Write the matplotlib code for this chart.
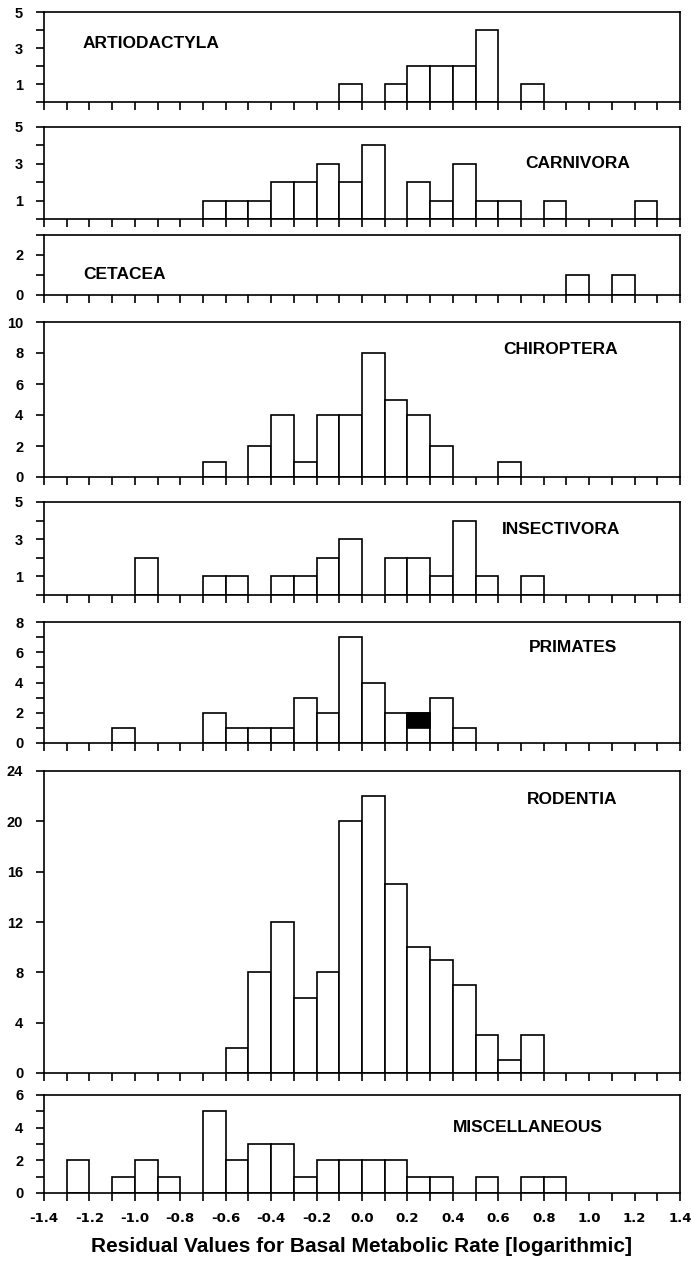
#stacked residual histograms by mammal order
import matplotlib.pyplot as plt
import numpy as np

plt.rcParams['font.family'] = ['Liberation Sans', 'DejaVu Sans']

# bins of width 0.1, left edges -1.4 .. 1.3
bin_left = np.linspace(-1.4, 1.3, 28)

artiodactyla = [0,0,0,0,0,0,0,0,0,0, 0,0,0,1,0,1,2,2,2,4, 0,1,0,0,0,0,0,0]
carnivora    = [0,0,0,0,0,0,0,1,1,1, 2,2,3,2,4,0,2,1,3,1, 1,0,1,0,0,0,1,0]
cetacea      = [0,0,0,0,0,0,0,0,0,0, 0,0,0,0,0,0,0,0,0,0, 0,0,0,1,0,1,0,0]
chiroptera   = [0,0,0,0,0,0,0,1,0,2, 4,1,4,4,8,5,4,2,0,0, 1,0,0,0,0,0,0,0]
insectivora  = [0,0,0,0,2,0,0,1,1,0, 1,1,2,3,0,2,2,1,4,1, 0,1,0,0,0,0,0,0]
primates     = [0,0,0,1,0,0,0,2,1,1, 1,3,2,7,4,2,2,3,1,0, 0,0,0,0,0,0,0,0]
primates_dark= [0,0,0,0,0,0,0,0,0,0, 0,0,0,0,0,0,1,0,0,0, 0,0,0,0,0,0,0,0]
rodentia     = [0,0,0,0,0,0,0,0,2,8, 12,6,8,20,22,15,10,9,7,3, 1,3,0,0,0,0,0,0]
misc         = [0,2,0,1,2,1,0,5,2,3, 3,1,2,2,2,2,1,1,0,1, 0,1,1,0,0,0,0,0]

names  = ['ARTIODACTYLA', 'CARNIVORA', 'CETACEA', 'CHIROPTERA',
          'INSECTIVORA', 'PRIMATES', 'RODENTIA', 'MISCELLANEOUS']
counts = [artiodactyla, carnivora, cetacea, chiroptera,
          insectivora, primates, rodentia, misc]
ymax   = [5, 5, 3, 10, 5, 8, 24, 6]
yticks = [range(0, 6), range(0, 6), range(0, 4), range(0, 11, 2),
          range(0, 6), range(0, 9), range(0, 25, 4), range(0, 7)]
ylabs  = [[1, 3, 5], [1, 3, 5], [0, 2], [0, 2, 4, 6, 8, 10],
          [1, 3, 5], [0, 2, 4, 6, 8], [0, 4, 8, 12, 16, 20, 24], [0, 2, 4, 6]]

xlabels = [-1.4, -1.2, -1.0, -0.8, -0.6, -0.4, -0.2, 0.0, 0.2, 0.4, 0.6, 0.8, 1.0, 1.2, 1.4]

# panel boxes in pixels (top, bottom) and label anchor (left x, centre y)
W, H = 691, 1264
left, right = 44, 680
boxes = [(12, 102), (127, 219), (235, 295), (322, 477),
         (502, 595), (622, 743), (771, 1073), (1095, 1193)]
tpos = [(83, 43), (525, 163), (83, 275), (503, 350),
        (502, 530), (529, 648), (527, 799), (453, 1127)]

fig = plt.figure(figsize=(W/100, H/100), dpi=100)
fig.patch.set_facecolor('white')

lw = 1.2
for k in range(8):
    top, bot = boxes[k]
    ax = fig.add_axes([left/W, 1 - bot/H, (right-left)/W, (bot-top)/H])
    c = np.array(counts[k])
    m = c > 0
    ax.bar(bin_left[m], c[m], width=0.1, align='edge', color='white',
           edgecolor='black', linewidth=lw)
    if k == 5:
        d = np.array(primates_dark)
        md = d > 0
        ax.bar(bin_left[md], d[md], bottom=c[md]-d[md], width=0.1, align='edge',
               color='black', edgecolor='black', linewidth=lw)
    ax.set_xlim(-1.4, 1.4)
    ax.set_ylim(0, ymax[k])
    ax.set_xticks(np.linspace(-1.4, 1.4, 29))
    ax.set_yticks(list(yticks[k]))
    ax.set_yticklabels([str(v) if v in ylabs[k] else '' for v in yticks[k]],
                       fontsize=10.5, fontweight='bold')
    ax.tick_params(axis='both', direction='out', length=6, width=lw,
                   top=False, right=False)
    ax.tick_params(axis='y', pad=9)
    if k == 7:
        ax.set_xticklabels([f'{v:.1f}' if np.any(np.isclose(v, xlabels)) else ''
                            for v in np.linspace(-1.4, 1.4, 29)],
                           fontsize=9.5, fontweight='bold', family='DejaVu Sans')
        ax.tick_params(axis='x', pad=8)
    else:
        ax.set_xticklabels([])
    for s in ax.spines.values():
        s.set_linewidth(lw)
    tx, ty = tpos[k]
    fig.text(tx/W, 1 - ty/H, names[k], fontsize=12.5, fontweight='bold',
             ha='left', va='center')

fig.text(362/W, 1 - 1247/H, 'Residual Values for Basal Metabolic Rate [logarithmic]',
         fontsize=15, fontweight='bold', ha='center', va='center')

plt.savefig('out.png', dpi=100)
